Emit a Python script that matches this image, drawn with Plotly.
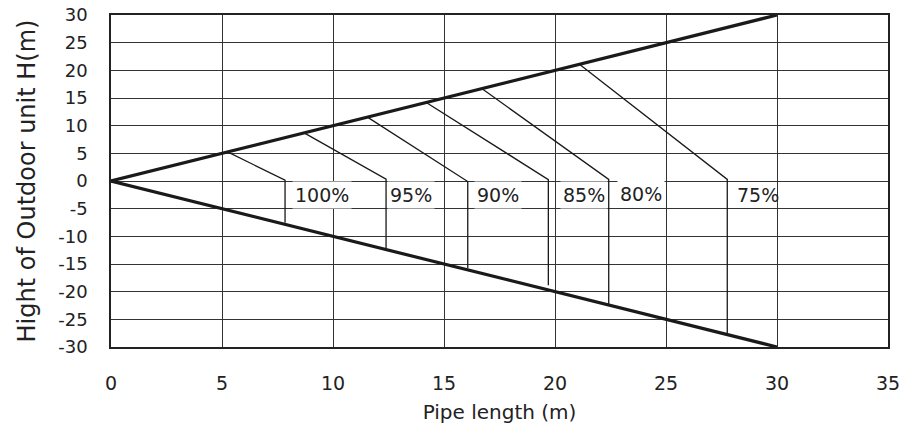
import plotly.graph_objects as go

# ---- data ----
x_ticks = [0, 5, 10, 15, 20, 25, 30, 35]
x_tick_labels = ["0", "5", "10", "15", "20", "25", "30", "35"]
y_ticks = [30, 25, 20, 15, 10, 5, 0, -5, -10, -15, -20, -25, -30]
y_tick_labels = ["30", "25", "20", "15", "10", "5", "0", "-5", "-10", "-15", "-20", "-25", "-30"]

# boundary lines (pipe length vs. max height difference)
upper_x = [0, 30]
upper_y = [0, 30]
lower_x = [0, 30]
lower_y = [0, -30]

# capacity correction curves
labels = ["100%", "95%", "90%", "85%", "80%", "75%"]
start_x = [5.25, 8.7, 11.55, 14.2, 16.7, 21.1]
start_y = [5.25, 8.7, 11.55, 14.2, 16.7, 21.1]
knee_x = [7.84, 12.39, 16.07, 19.7, 22.42, 27.76]
knee_y = [0.16, 0.34, -0.1, 0.25, 0.29, 0.29]
end_y = [-7.56, -12.19, -15.81, -18.83, -22.45, -27.57]

label_x = [9.49, 13.53, 17.45, 21.32, 23.86, 29.15]
label_y = [-2.5, -2.5, -2.5, -2.5, -2.35, -2.5]
label_bg = ["white", "white", "white", "white", "white", "rgba(0,0,0,0)"]

FONT = "DejaVu Sans"
INK = "#1a1a1a"

fig = go.Figure()

for i, lab in enumerate(labels):
    fig.add_trace(go.Scatter(
        x=[start_x[i], knee_x[i], knee_x[i]],
        y=[start_y[i], knee_y[i], end_y[i]],
        mode="lines", line=dict(color=INK, width=1.3),
        showlegend=False, hoverinfo="skip", name=lab))

fig.add_trace(go.Scatter(x=upper_x, y=upper_y, mode="lines",
                         line=dict(color=INK, width=3.2), showlegend=False))
fig.add_trace(go.Scatter(x=lower_x, y=lower_y, mode="lines",
                         line=dict(color=INK, width=3.2), showlegend=False))

for i, lab in enumerate(labels):
    fig.add_annotation(x=label_x[i], y=label_y[i], text=lab, showarrow=False,
                       font=dict(family=FONT, size=19, color="#222"),
                       bgcolor=label_bg[i], borderpad=2,
                       xanchor="center", yanchor="middle")

fig.update_layout(
    width=911, height=439,
    margin=dict(l=111, r=23, t=15, b=92),
    paper_bgcolor="white", plot_bgcolor="white",
    font=dict(family=FONT, color="#222"),
    showlegend=False,
)

fig.update_xaxes(
    range=[0, 35], tickvals=x_ticks, ticktext=x_tick_labels,
    showgrid=True, gridcolor="#333", gridwidth=1, zeroline=False,
    showline=True, linecolor="#222", linewidth=1.5, mirror=True,
    ticks="", ticklabelstandoff=18,
    tickfont=dict(family=FONT, size=19, color="#222"),
    title=dict(text="Pipe length (m)", font=dict(family=FONT, size=20, color="#222"), standoff=12),
    automargin=False,
)
fig.update_yaxes(
    range=[-30, 30], tickvals=y_ticks, ticktext=y_tick_labels,
    showgrid=True, gridcolor="#333", gridwidth=1, zeroline=False,
    showline=True, linecolor="#222", linewidth=1.5, mirror=True,
    ticks="", ticklabelstandoff=18,
    tickfont=dict(family=FONT, size=18, color="#222"),
    title=dict(text="Hight of Outdoor unit H(m)", font=dict(family=FONT, size=24, color="#222"), standoff=16),
    automargin=False,
)

fig.write_html(
    "out.html",
    config={"displayModeBar": False},
    post_script="document.body.style.margin='0';document.body.style.overflow='hidden';",
)
